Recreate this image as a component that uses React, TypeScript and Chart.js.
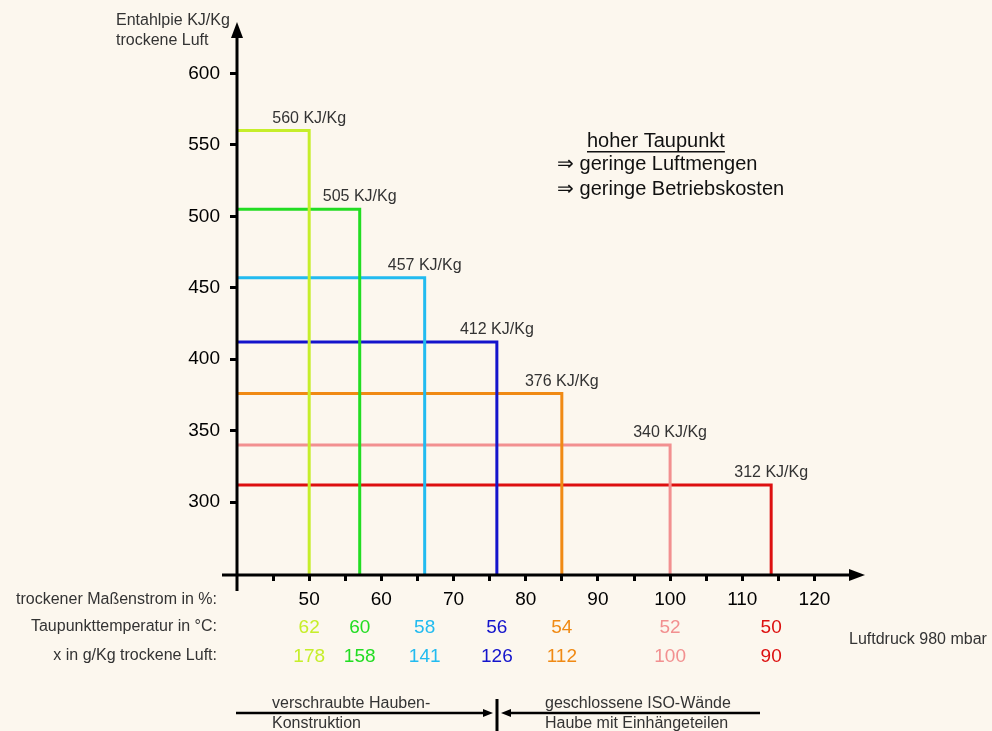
import React, { useEffect, useRef } from "react";
import { Chart, registerables } from "chart.js";

Chart.register(...registerables);

const enthalpy = [560, 505, 457, 412, 376, 340, 312];
const massFlow = [50, 57, 66, 76, 85, 100, 114];
const dewPoint = [62, 60, 58, 56, 54, 52, 50];
const humidity = [178, 158, 141, 126, 112, 100, 90];
const seriesColors = ["#c6ee2a", "#22dd22", "#22bbf0", "#1414cc", "#f08a14", "#f29090", "#dd1010"];
const yTicks = [300, 350, 400, 450, 500, 550, 600];
const xTicks = [45, 50, 55, 60, 65, 70, 75, 80, 85, 90, 95, 100, 105, 110, 115, 120];
const X_MIN = 40;
const X_MAX = 127;
const Y_MIN = 249;
const Y_MAX = 636;

const FONT = "Arial, 'Liberation Sans', sans-serif";
const BG = "#fcf7ee";

const overlayPlugin = {
  id: "overlay",
  afterDatasetsDraw(chart: any) {
    const ctx = chart.ctx as CanvasRenderingContext2D;
    const xs = chart.scales.x;
    const ys = chart.scales.y;
    const ca = chart.chartArea;
    ctx.save();

    // value labels above corners
    ctx.font = `16px ${FONT}`;
    ctx.fillStyle = "#333";
    ctx.textAlign = "center";
    ctx.textBaseline = "alphabetic";
    enthalpy.forEach((e, i) => {
      const px = xs.getPixelForValue(massFlow[i]);
      const py = ys.getPixelForValue(e);
      ctx.fillText(`${e} KJ/Kg`, px, py - 8);
    });

    // axes
    ctx.strokeStyle = "#000";
    ctx.fillStyle = "#000";
    ctx.lineWidth = 3;
    ctx.beginPath();
    ctx.moveTo(ca.left - 15, ca.bottom);
    ctx.lineTo(ca.right - 12, ca.bottom);
    ctx.stroke();
    ctx.beginPath();
    ctx.moveTo(ca.left, ca.bottom + 16);
    ctx.lineTo(ca.left, ca.top + 12);
    ctx.stroke();
    // arrowheads
    ctx.beginPath();
    ctx.moveTo(ca.right, ca.bottom);
    ctx.lineTo(ca.right - 16, ca.bottom - 6);
    ctx.lineTo(ca.right - 16, ca.bottom + 6);
    ctx.closePath();
    ctx.fill();
    ctx.beginPath();
    ctx.moveTo(ca.left, ca.top);
    ctx.lineTo(ca.left - 6, ca.top + 16);
    ctx.lineTo(ca.left + 6, ca.top + 16);
    ctx.closePath();
    ctx.fill();

    // axis title
    ctx.fillStyle = "#333";
    ctx.font = `16px ${FONT}`;
    ctx.textAlign = "left";
    ctx.textBaseline = "middle";
    ctx.fillText("Entahlpie KJ/Kg", 116, 21);
    ctx.fillText("trockene Luft", 116, 41);

    // row labels
    ctx.textAlign = "right";
    ctx.fillText("trockener Maßenstrom in %:", 217, 600);
    ctx.fillText("Taupunkttemperatur in °C:", 217, 627);
    ctx.fillText("x in g/Kg trockene Luft:", 217, 656);
    ctx.textAlign = "left";
    ctx.fillText("Luftdruck 980 mbar", 849, 640);

    // colored values
    ctx.font = `19px ${FONT}`;
    ctx.textAlign = "center";
    massFlow.forEach((m, i) => {
      const px = xs.getPixelForValue(m);
      ctx.fillStyle = seriesColors[i];
      ctx.fillText(String(dewPoint[i]), px, 628);
      ctx.fillText(String(humidity[i]), px, 657);
    });

    // annotation
    ctx.fillStyle = "#111";
    ctx.font = `20px ${FONT}`;
    ctx.textAlign = "left";
    ctx.fillText("hoher Taupunkt", 587, 141);
    const w = ctx.measureText("hoher Taupunkt").width;
    ctx.fillRect(587, 151, w, 1.5);
    ctx.fillText("⇒ geringe Luftmengen", 557, 164);
    ctx.fillText("⇒ geringe Betriebskosten", 557, 189);

    // bottom construction arrows
    ctx.strokeStyle = "#000";
    ctx.fillStyle = "#000";
    ctx.lineWidth = 2.5;
    ctx.beginPath();
    ctx.moveTo(236, 713);
    ctx.lineTo(485, 713);
    ctx.stroke();
    ctx.beginPath();
    ctx.moveTo(493, 713);
    ctx.lineTo(483, 709);
    ctx.lineTo(483, 717);
    ctx.closePath();
    ctx.fill();
    ctx.beginPath();
    ctx.moveTo(509, 713);
    ctx.lineTo(760, 713);
    ctx.stroke();
    ctx.beginPath();
    ctx.moveTo(501, 713);
    ctx.lineTo(511, 709);
    ctx.lineTo(511, 717);
    ctx.closePath();
    ctx.fill();
    ctx.lineWidth = 3;
    ctx.beginPath();
    ctx.moveTo(497, 699);
    ctx.lineTo(497, 731);
    ctx.stroke();

    ctx.fillStyle = "#333";
    ctx.font = `16px ${FONT}`;
    ctx.textAlign = "left";
    ctx.fillText("verschraubte Hauben-", 272, 704);
    ctx.fillText("Konstruktion", 272, 724);
    ctx.fillText("geschlossene ISO-Wände", 545, 704);
    ctx.fillText("Haube mit Einhängeteilen", 545, 724);

    ctx.restore();
  },
};

const bgPlugin = {
  id: "bg",
  beforeDraw(chart: any) {
    const ctx = chart.ctx as CanvasRenderingContext2D;
    ctx.save();
    ctx.fillStyle = BG;
    ctx.fillRect(0, 0, chart.width, chart.height);
    ctx.restore();
  },
};

export default function App() {
  const ref = useRef<HTMLCanvasElement | null>(null);
  useEffect(() => {
    document.body.style.margin = "0";
    const canvas = ref.current;
    if (!canvas) return;
    const datasets = enthalpy.map((e, i) => ({
      label: `${e} KJ/Kg`,
      data: [
        { x: X_MIN, y: e },
        { x: massFlow[i], y: e },
        { x: massFlow[i], y: Y_MIN },
      ],
      borderColor: seriesColors[i],
      backgroundColor: seriesColors[i],
      borderWidth: 3,
      pointRadius: 0,
      tension: 0,
      fill: false,
    }));
    const chart = new Chart(canvas, {
      type: "line",
      data: { datasets },
      plugins: [bgPlugin, overlayPlugin],
      options: {
        animation: false,
        responsive: false,
        maintainAspectRatio: false,
        layout: { padding: { left: 177, right: 127, top: 22, bottom: 116 } },
        plugins: { legend: { display: false }, tooltip: { enabled: false } },
        scales: {
          x: {
            type: "linear",
            min: X_MIN,
            max: X_MAX,
            afterFit: (s: any) => { s.height = 40; },
            afterBuildTicks: (s: any) => { s.ticks = xTicks.map((v) => ({ value: v })); },
            border: { display: false },
            grid: { drawOnChartArea: false, drawTicks: true, tickLength: 6, tickColor: "#000", lineWidth: 3 },
            ticks: {
              color: "#000",
              font: { family: FONT, size: 19 },
              padding: 7,
              autoSkip: false,
              maxRotation: 0,
              callback: (v: any) => (Number(v) % 10 === 0 ? String(v) : ""),
            },
          },
          y: {
            type: "linear",
            min: Y_MIN,
            max: Y_MAX,
            afterFit: (s: any) => { s.width = 60; },
            afterBuildTicks: (s: any) => { s.ticks = yTicks.map((v) => ({ value: v })); },
            border: { display: false },
            grid: { drawOnChartArea: false, drawTicks: true, tickLength: 7, tickColor: "#000", lineWidth: 3 },
            ticks: {
              color: "#000",
              font: { family: FONT, size: 19 },
              padding: 10,
              autoSkip: false,
              callback: (v: any) => String(v),
            },
          },
        },
      },
    } as any);
    return () => chart.destroy();
  }, []);
  return (
    <div style={{ width: 992, height: 731, background: BG }}>
      <canvas ref={ref} width={992} height={731} style={{ display: "block" }} />
    </div>
  );
}
